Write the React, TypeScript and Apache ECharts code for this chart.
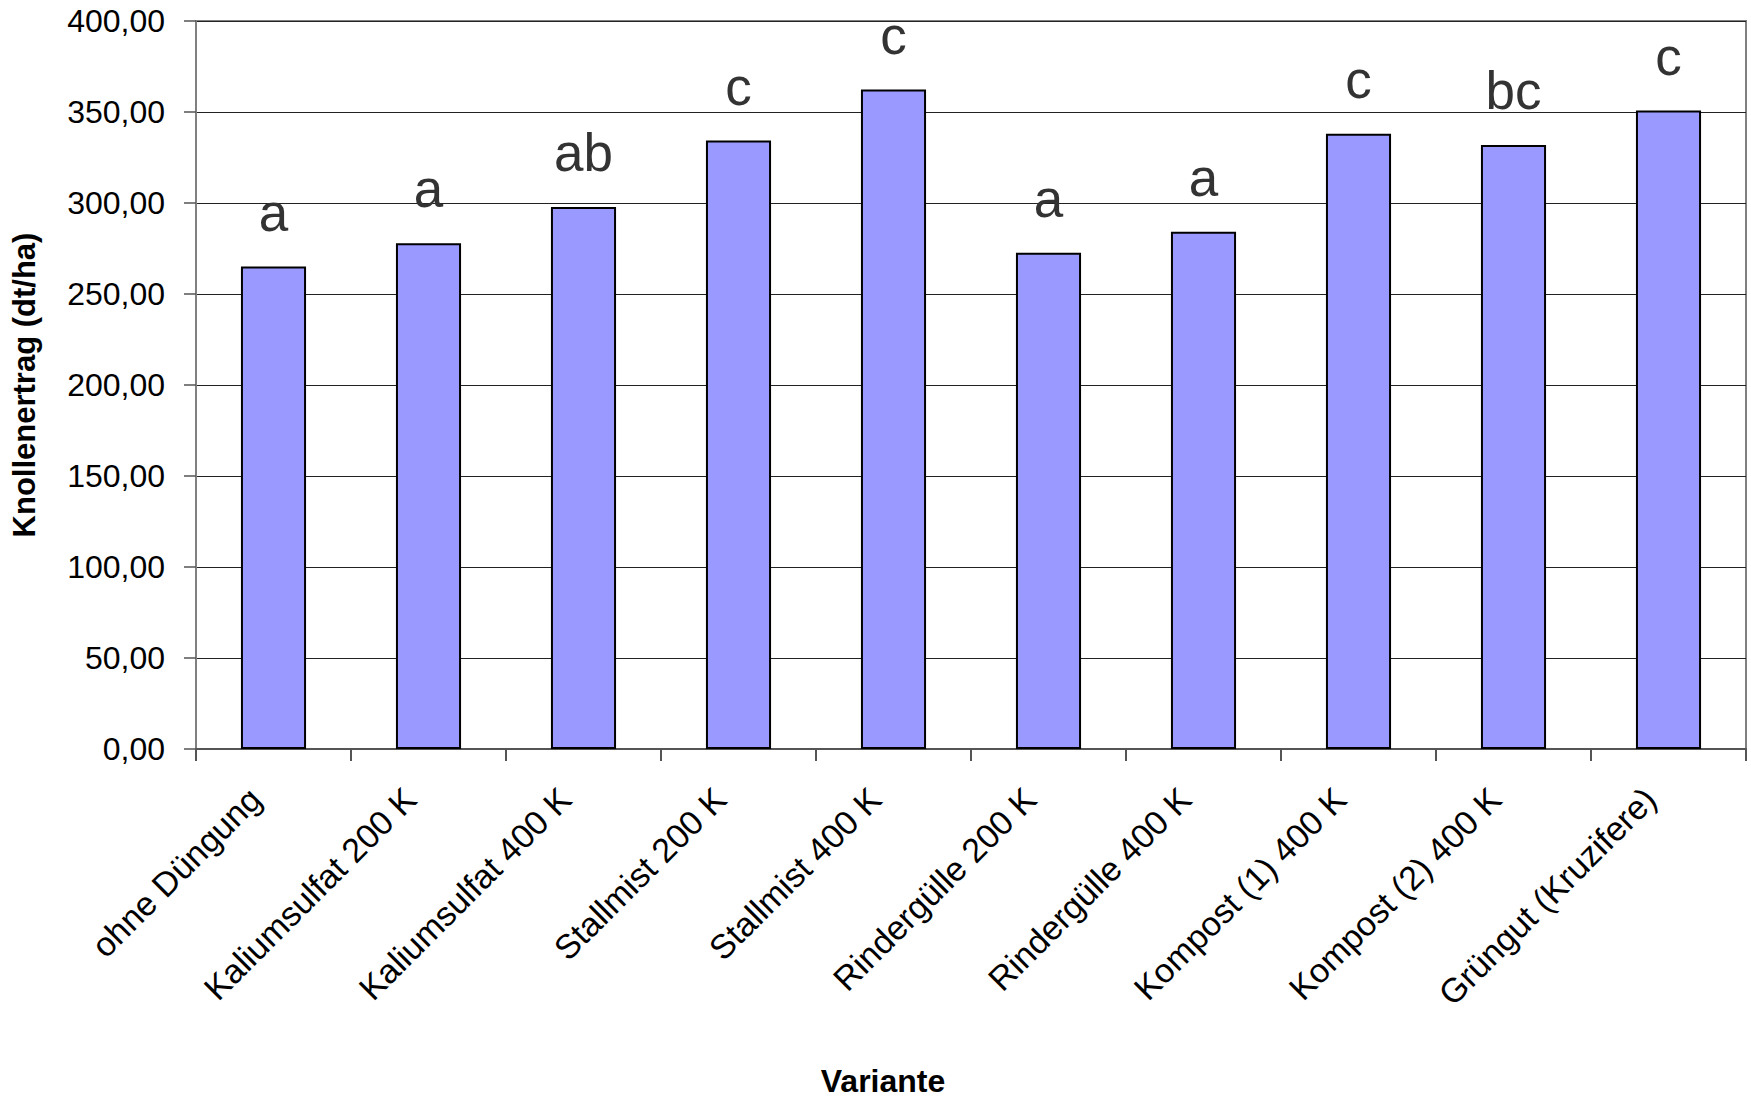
import React, { useEffect, useRef } from "react";
import * as echarts from "echarts";

const categories = [
  "ohne Düngung",
  "Kaliumsulfat 200 K",
  "Kaliumsulfat 400 K",
  "Stallmist 200 K",
  "Stallmist 400 K",
  "Rindergülle 200 K",
  "Rindergülle 400 K",
  "Kompost (1) 400 K",
  "Kompost (2) 400 K",
  "Grüngut (Kruzifere)",
];
const yields = [265.1, 277.9, 297.8, 334.3, 362.3, 272.6, 284.2, 338.1, 331.9, 350.8];
const letters = ["a", "a", "ab", "c", "c", "a", "a", "c", "bc", "c"];
const yMin = 0;
const yMax = 400;
const yStep = 50;
const yAxisTitle = "Knollenertrag (dt/ha)";
const xAxisTitle = "Variante";

const FONT = "'Liberation Sans', Arial, sans-serif";

export default function App() {
  const ref = useRef<HTMLDivElement>(null);
  useEffect(() => {
    if (!ref.current) return;
    const chart = echarts.init(ref.current, undefined, { renderer: "svg" });
    chart.setOption({
      animation: false,
      backgroundColor: "#ffffff",
      textStyle: { fontFamily: FONT },
      grid: {
        left: 196,
        right: 5,
        top: 21,
        bottom: 349,
        show: true,
        borderColor: "#808080",
        borderWidth: 2,
        backgroundColor: "transparent",
        containLabel: false,
        outerBoundsMode: "none",
      },
      xAxis: {
        type: "category",
        data: categories,
        axisLine: { show: true, lineStyle: { color: "#555", width: 2 } },
        axisTick: { show: true, length: 12, lineStyle: { color: "#555", width: 2 } },
        axisLabel: {
          rotate: 45,
          interval: 0,
          margin: 26,
          padding: [0, 26, 0, 0],
          fontSize: 34,
          color: "#000",
          fontFamily: FONT,
        },
      },
      yAxis: {
        type: "value",
        min: yMin,
        max: yMax,
        interval: yStep,
        name: yAxisTitle,
        nameLocation: "middle",
        nameGap: 156,
        nameTextStyle: { fontSize: 31, fontWeight: "bold", color: "#000", fontFamily: FONT },
        axisLine: { show: true, lineStyle: { color: "#808080", width: 2 } },
        axisTick: { show: true, length: 12, lineStyle: { color: "#555", width: 1.5 } },
        axisLabel: {
          margin: 31,
          fontSize: 32,
          color: "#000",
          fontFamily: FONT,
          formatter: (v: number) => v.toFixed(2).replace(".", ","),
        },
        splitLine: { show: true, lineStyle: { color: "#222", width: 1.2 } },
      },
      series: [
        {
          type: "bar",
          data: yields,
          barWidth: "42%",
          itemStyle: { color: "#9999FF", borderColor: "#000", borderWidth: 2 },
          label: {
            show: true,
            position: "top",
            distance: 28,
            fontSize: 53,
            color: "#333",
            fontFamily: FONT,
            formatter: (p: any) => letters[p.dataIndex],
          },
        },
      ],
      graphic: [
        {
          type: "text",
          x: 883,
          y: 1081,
          style: {
            text: xAxisTitle,
            fontSize: 32,
            fontWeight: "bold",
            fill: "#000",
            fontFamily: FONT,
            textAlign: "center",
            textVerticalAlign: "middle",
          },
        },
      ],
    });
    return () => chart.dispose();
  }, []);
  return (
    <div
      ref={ref}
      style={{ position: "fixed", left: 0, top: 0, width: 1751, height: 1098 }}
    />
  );
}
